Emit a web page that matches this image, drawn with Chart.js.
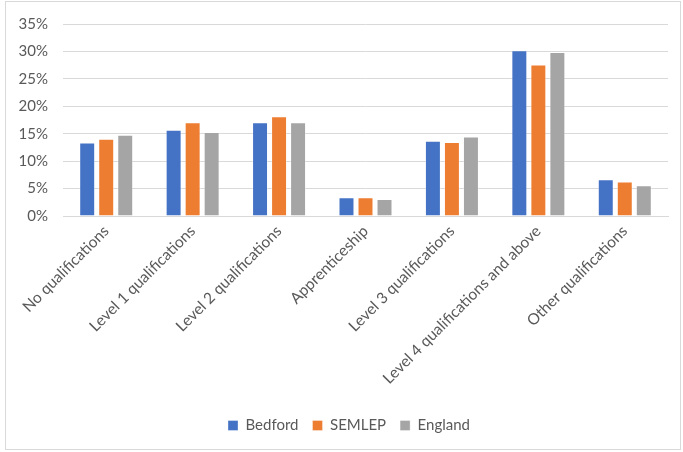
<!DOCTYPE html>
<html>
<head>
<meta charset="utf-8">
<title>Highest level of qualification</title>
<script src="https://cdn.jsdelivr.net/npm/chart.js@4.4.1/dist/chart.umd.min.js"></script>
<style>
  html, body { margin: 0; padding: 0; background: #fff; }
  #wrap { position: relative; width: 683px; height: 452px; }
</style>
</head>
<body>
<div id="wrap"><canvas id="chart" width="683" height="452"></canvas></div>
<script>
// Qualification categories and share of residents (%) per area
const categories = [
  "No qualifications",
  "Level 1 qualifications",
  "Level 2 qualifications",
  "Apprenticeship",
  "Level 3 qualifications",
  "Level 4 qualifications and above",
  "Other qualifications"
];
const bedford = [13.4, 15.7, 17.1, 3.4, 13.7, 30.2, 6.7];
const semlep  = [14.1, 17.1, 18.2, 3.4, 13.5, 27.6, 6.3];
const england = [14.8, 15.3, 17.1, 3.1, 14.5, 29.9, 5.6];
const yTicks  = [0, 5, 10, 15, 20, 25, 30, 35];

const textColor = "#595959";
const gridColor = "#D9D9D9";
const fontFamily = "Lato, 'Open Sans', 'Liberation Sans', sans-serif";

// white background plus the thin frame round the whole chart
const frame = {
  id: "frame",
  beforeDraw(chart) {
    const c = chart.ctx;
    c.save();
    c.fillStyle = "#fff";
    c.fillRect(0, 0, chart.width, chart.height);
    c.strokeStyle = "#D9D9D9";
    c.lineWidth = 1;
    c.strokeRect(5.5, 1.5, 675, 448);
    c.restore();
  }
};

// centre the legend under the plot area rather than the whole canvas
const legendShift = {
  id: "legendShift",
  afterLayout(chart) {
    const lg = chart.legend;
    if (!lg) return;
    const dx = 8;
    lg.left += dx;
    lg.right += dx;
  }
};

function series(label, data, color) {
  return {
    label, data,
    backgroundColor: color,
    borderColor: "rgba(255,255,255,0.35)",
    borderWidth: 1,
    categoryPercentage: 0.66,
    barPercentage: 0.84
  };
}

new Chart(document.getElementById("chart"), {
  type: "bar",
  data: {
    labels: categories,
    datasets: [
      series("Bedford", bedford, "#4472C4"),
      series("SEMLEP", semlep, "#ED7D31"),
      series("England", england, "#A5A5A5")
    ]
  },
  options: {
    responsive: false,
    animation: false,
    layout: { padding: { left: 14, right: 15, top: 16, bottom: 9 } },
    scales: {
      x: {
        grid: { display: false, drawTicks: false },
        border: { color: gridColor },
        afterFit(scale) { scale.height = 188; },
        ticks: {
          color: textColor,
          font: { family: fontFamily, size: 15.5 },
          minRotation: 45,
          maxRotation: 45,
          padding: 6,
          autoSkip: false
        }
      },
      y: {
        min: 0,
        max: 35,
        afterBuildTicks(scale) { scale.ticks = yTicks.map(v => ({ value: v })); },
        afterFit(scale) { scale.width = 49; },
        grid: { color: gridColor, lineWidth: 1, drawTicks: false },
        border: { display: false },
        ticks: {
          color: textColor,
          font: { family: fontFamily, size: 15 },
          padding: 15,
          callback: v => v + "%"
        }
      }
    },
    plugins: {
      legend: {
        position: "bottom",
        labels: {
          color: textColor,
          font: { family: fontFamily, size: 15 },
          boxWidth: 10,
          boxHeight: 10,
          padding: 14
        }
      },
      tooltip: { enabled: false }
    }
  },
  plugins: [frame, legendShift]
});
</script>
</body>
</html>
